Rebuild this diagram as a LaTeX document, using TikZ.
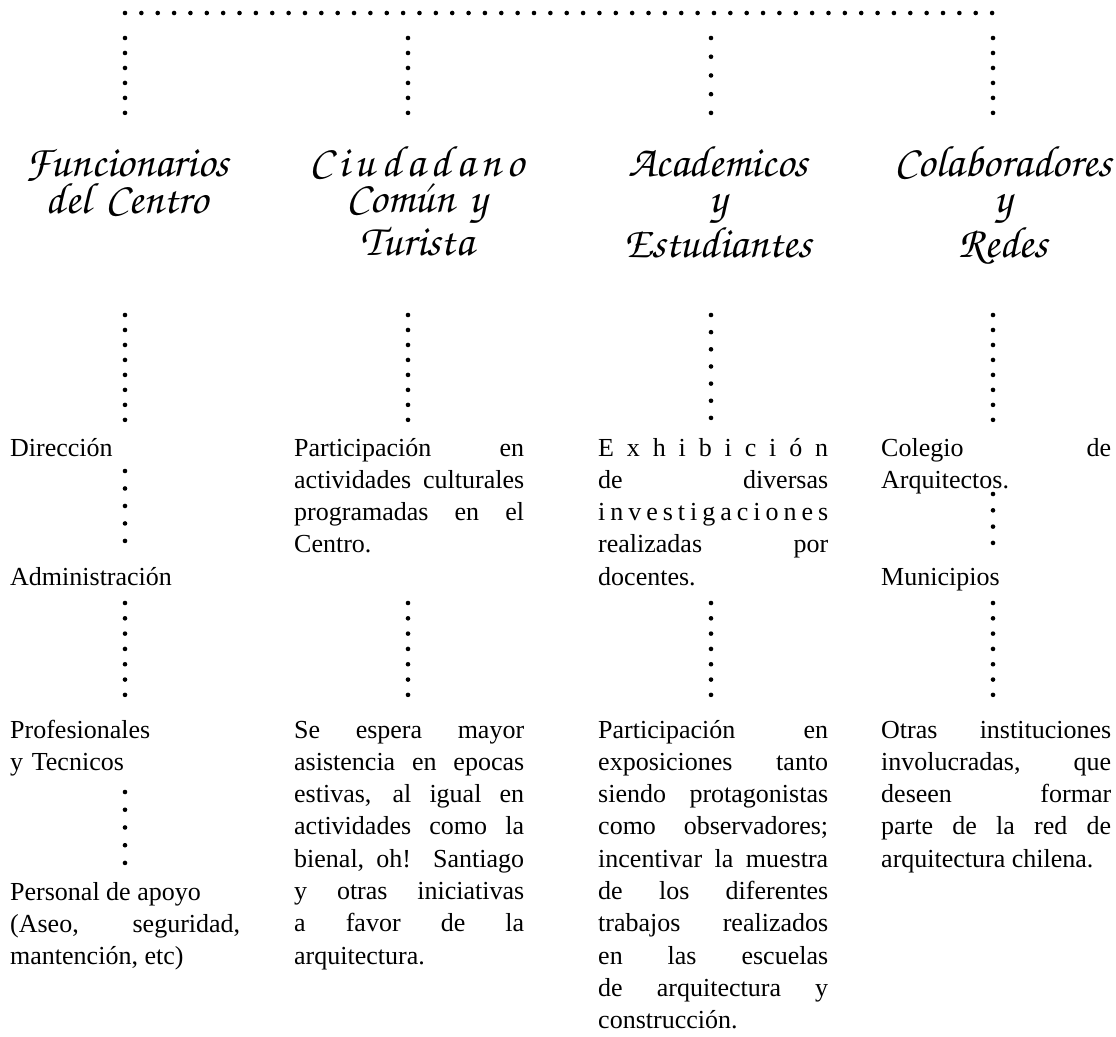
\documentclass[tikz,border=0pt]{standalone}
\usepackage[T1,TU]{fontenc}
\usepackage{fontspec}
\setmainfont{Liberation Serif}
\newcommand\scrfont{\usefont{T1}{pzc}{mb}{it}}
\hyphenpenalty=10000
\tolerance=10000
\hbadness=10000
\begin{document}
\begin{tikzpicture}[x=1pt,y=-1pt]
\tikzset{
  body/.style={anchor=base west, inner sep=0pt, text width=230pt, align=justify,
    font=\fontsize{26}{32.3}\selectfont},
  lbody/.style={body, align=left},
  head/.style={anchor=base, inner sep=0pt, text width=290pt, align=center,
    font=\scrfont\fontsize{44}{36}\selectfont},
  dotline/.style={line width=4.6pt, line cap=round, dash pattern=on 0pt off #1},
  dotline/.default=15pt
}
\useasboundingbox (0,0) rectangle (1116,1036);

% ---------- top bar ----------
\coordinate (tl) at (125,13);
\coordinate (tr) at (993,13);
\draw[dotline=16.36pt] (tl) -- (tr);

% ---------- headings ----------
\node[head] (h1) at (127,176) {Funcionarios\\del Centro};
\node[head] (h2) at (417,176) {C\hspace{6pt}i\hspace{6pt}u\hspace{6pt}d\hspace{6pt}a\hspace{6pt}d\hspace{6pt}a\hspace{6pt}n\hspace{6pt}o\\Com\'{u}n y\\Turista};
\node[head] (h3) at (718,176) {Academicos\\y\\Estudiantes};
\node[head] (h4) at (1003,176) {Colaboradores\\y\\Redes};

% ---------- top verticals ----------
\coordinate (a1) at (125,38);  \coordinate (b1) at (125,113);
\coordinate (a2) at (408,38);  \coordinate (b2) at (408,113);
\coordinate (a3) at (711,38);  \coordinate (b3) at (711,113);
\coordinate (a4) at (993,38);  \coordinate (b4) at (993,113);
\draw[dotline=14.98pt] (a1) -- (b1);
\draw[dotline=14.98pt] (a2) -- (b2);
\draw[dotline=18.73pt] (a3) -- (b3);
\draw[dotline=14.98pt] (a4) -- (b4);

% ---------- middle verticals ----------
\coordinate (m1) at (125,315); \coordinate (n1) at (125,420);
\coordinate (m2) at (408,315); \coordinate (n2) at (408,420);
\coordinate (m3) at (711,315); \coordinate (n3) at (711,418);
\coordinate (m4) at (993,315); \coordinate (n4) at (993,420);
\draw[dotline=14.98pt] (m1) -- (n1);
\draw[dotline=14.98pt] (m2) -- (n2);
\draw[dotline=17.15pt] (m3) -- (n3);
\draw[dotline=14.98pt] (m4) -- (n4);

% ---------- column 1 ----------
\node[body] (dir) at (10,456) {Dirección};
\node[body] (adm) at (10,585) {Administración};
\node[lbody] (pro) at (10,738) {Profesionales\\y Tecnicos};
\node[body] (per) at (10,900) {Personal de apoyo\\(Aseo, seguridad,\linebreak mantención, etc)};
\coordinate (d1a) at (125,471); \coordinate (d1b) at (125,541);
\draw[dotline=17.48pt] (d1a) -- (d1b);
\coordinate (e1a) at (125,603); \coordinate (e1b) at (125,695);
\draw[dotline=15.31pt] (e1a) -- (e1b);
\coordinate (f1a) at (125,792); \coordinate (f1b) at (125,863);
\draw[dotline=17.73pt] (f1a) -- (f1b);

% ---------- column 2 ----------
\node[body] (par) at (294,456) {Participación en\linebreak actividades culturales\linebreak programadas en el\linebreak Centro.};
\node[body] (esp) at (294,738) {Se espera mayor\linebreak asistencia en epocas\linebreak estivas, al igual en\linebreak actividades como la\linebreak bienal, oh! Santiago\linebreak y otras iniciativas\linebreak a favor de la\linebreak arquitectura.};
\coordinate (e2a) at (408,603); \coordinate (e2b) at (408,695);
\draw[dotline=15.31pt] (e2a) -- (e2b);

% ---------- column 3 ----------
\node[body] (exh) at (598,456) {E x h i b i c i ó n\linebreak de diversas\linebreak i n v e s t i g a c i o n e s\linebreak realizadas por\linebreak docentes.};
\node[body] (par3) at (598,738) {Participación en\linebreak exposiciones tanto\linebreak siendo protagonistas\linebreak como observadores;\linebreak incentivar la muestra\linebreak de los diferentes\linebreak trabajos realizados\linebreak en las escuelas\linebreak de arquitectura y\linebreak construcción.};
\coordinate (e3a) at (711,603); \coordinate (e3b) at (711,695);
\draw[dotline=15.31pt] (e3a) -- (e3b);

% ---------- column 4 ----------
\node[body] (col) at (881,456) {Colegio de\linebreak Arquitectos.};
\node[body] (mun) at (881,585) {Municipios};
\node[body] (otr) at (881,738) {Otras instituciones\linebreak involucradas, que\linebreak deseen formar\linebreak parte de la red de\linebreak arquitectura chilena.};
\coordinate (d4a) at (993,494); \coordinate (d4b) at (993,543);
\draw[dotline=16.31pt] (d4a) -- (d4b);
\coordinate (e4a) at (993,603); \coordinate (e4b) at (993,695);
\draw[dotline=15.31pt] (e4a) -- (e4b);
\end{tikzpicture}
\end{document}
